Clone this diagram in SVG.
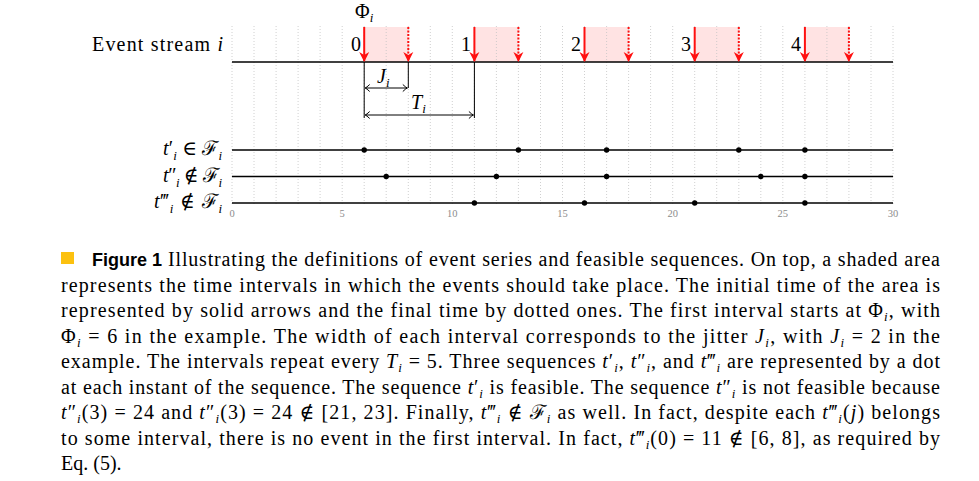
<svg xmlns="http://www.w3.org/2000/svg" width="979" height="481" viewBox="0 0 979 481">
<style>
.serif{font-family:"Liberation Serif","DejaVu Serif",serif;fill:#000}
.lbl{font-size:20px}
.it{font-style:italic}
.tick{font-family:"Liberation Serif","DejaVu Serif",serif;font-size:10.5px;fill:#8c8c8c;text-anchor:middle}
.grid{stroke:#c4c4c4;stroke-width:0.8;stroke-dasharray:1 2}
.shade{fill:#ffe3e3}
.axis{stroke:#000;stroke-width:1.4;fill:none}
.red{stroke:#ff1010;stroke-width:2;fill:none}
.reddot{stroke:#ff1010;stroke-width:2;fill:none;stroke-dasharray:2 1.5}
.dim{stroke:#000;stroke-width:1;fill:none}
.dot{fill:#000}
.cap{font-family:"Liberation Serif","DejaVu Serif",serif;font-size:20px;fill:#000}
</style>
<defs>
<marker id="ah" markerUnits="userSpaceOnUse" markerWidth="14" markerHeight="14" viewBox="-11 -7 14 14" refX="0" refY="0" orient="auto">
<path d="M1,0 L-9,-5 L-6,0 L-9,5 Z" fill="#ff1010"/>
</marker>
<marker id="dh" markerUnits="userSpaceOnUse" markerWidth="10" markerHeight="10" viewBox="-6 -5 8 10" refX="0" refY="0" orient="auto-start-reverse">
<path d="M-4.5,-3.5 Q-1.5,-0.6 0,0 Q-1.5,0.6 -4.5,3.5" stroke="#000" stroke-width="1" fill="none"/>
</marker>
</defs>

<g id="shading">
<rect class="shade" x="364.2" y="27" width="44.1" height="35"/>
<rect class="shade" x="474.4" y="27" width="44.1" height="35"/>
<rect class="shade" x="584.5" y="27" width="44.1" height="35"/>
<rect class="shade" x="694.7" y="27" width="44.1" height="35"/>
<rect class="shade" x="804.9" y="27" width="44.1" height="35"/>
</g>

<g id="grid">
<path class="grid" d="M232,26V206M254,26V206M276.1,26V206M298.1,26V206M320.1,26V206M342.2,26V206M364.2,26V206M386.2,26V206M408.3,26V206M430.3,26V206M452.3,26V206M474.4,26V206M496.4,26V206M518.4,26V206M540.5,26V206M562.5,26V206M584.5,26V206M606.6,26V206M628.6,26V206M650.6,26V206M672.7,26V206M694.7,26V206M716.7,26V206M738.8,26V206M760.8,26V206M782.8,26V206M804.9,26V206M826.9,26V206M848.9,26V206M871,26V206M893,26V206"/>
</g>

<g id="event-stream">
<text class="serif lbl" x="223" y="51" text-anchor="end" textLength="131" lengthAdjust="spacing">Event stream <tspan class="it">i</tspan></text>
<line class="axis" x1="232" y1="62" x2="893" y2="62"/>
<text class="serif lbl" x="355" y="18">Φ<tspan font-size="13" class="it" dy="4">i</tspan></text>
<text class="serif lbl" x="361" y="51" text-anchor="end">0</text>
<text class="serif lbl" x="471" y="51" text-anchor="end">1</text>
<text class="serif lbl" x="581" y="51" text-anchor="end">2</text>
<text class="serif lbl" x="691" y="51" text-anchor="end">3</text>
<text class="serif lbl" x="801" y="51" text-anchor="end">4</text>
</g>

<g id="seq-t1">
<text class="serif lbl" x="222" y="155" text-anchor="end" textLength="59" lengthAdjust="spacing"><tspan class="it">t</tspan>′<tspan font-size="13" class="it" dy="5">i</tspan><tspan dy="-5"> ∈ ℱ</tspan><tspan font-size="13" class="it" dy="5">i</tspan></text>
<line class="axis" x1="232" y1="150" x2="893" y2="150"/>
<circle class="dot" cx="364.2" cy="150" r="2.7"/>
<circle class="dot" cx="518.4" cy="150" r="2.7"/>
<circle class="dot" cx="606.6" cy="150" r="2.7"/>
<circle class="dot" cx="738.8" cy="150" r="2.7"/>
<circle class="dot" cx="804.9" cy="150" r="2.7"/>
</g>

<g id="seq-t2">
<text class="serif lbl" x="222" y="182" text-anchor="end" textLength="59" lengthAdjust="spacing"><tspan class="it">t</tspan>″<tspan font-size="13" class="it" dy="5">i</tspan><tspan dy="-5"> ∉ ℱ</tspan><tspan font-size="13" class="it" dy="5">i</tspan></text>
<line class="axis" x1="232" y1="176.5" x2="893" y2="176.5"/>
<circle class="dot" cx="386.2" cy="176.5" r="2.7"/>
<circle class="dot" cx="496.4" cy="176.5" r="2.7"/>
<circle class="dot" cx="606.6" cy="176.5" r="2.7"/>
<circle class="dot" cx="760.8" cy="176.5" r="2.7"/>
<circle class="dot" cx="804.9" cy="176.5" r="2.7"/>
</g>

<g id="seq-t3">
<text class="serif lbl" x="222" y="208" text-anchor="end" textLength="68" lengthAdjust="spacing"><tspan class="it">t</tspan>‴<tspan font-size="13" class="it" dy="5">i</tspan><tspan dy="-5"> ∉ ℱ</tspan><tspan font-size="13" class="it" dy="5">i</tspan></text>
<line class="axis" x1="232" y1="203" x2="893" y2="203"/>
<circle class="dot" cx="474.4" cy="203" r="2.7"/>
<circle class="dot" cx="584.5" cy="203" r="2.7"/>
<circle class="dot" cx="694.7" cy="203" r="2.7"/>
<circle class="dot" cx="804.9" cy="203" r="2.7"/>
</g>

<g id="ticks">
<text class="tick" x="232" y="217">0</text>
<text class="tick" x="342.2" y="217">5</text>
<text class="tick" x="452.3" y="217">10</text>
<text class="tick" x="562.5" y="217">15</text>
<text class="tick" x="672.7" y="217">20</text>
<text class="tick" x="782.8" y="217">25</text>
<text class="tick" x="893" y="217">30</text>
</g>

<g id="connectors">
<line class="red" x1="364.2" y1="27" x2="364.2" y2="61" marker-end="url(#ah)"/>
<line class="red" x1="474.4" y1="27" x2="474.4" y2="61" marker-end="url(#ah)"/>
<line class="red" x1="584.5" y1="27" x2="584.5" y2="61" marker-end="url(#ah)"/>
<line class="red" x1="694.7" y1="27" x2="694.7" y2="61" marker-end="url(#ah)"/>
<line class="red" x1="804.9" y1="27" x2="804.9" y2="61" marker-end="url(#ah)"/>
<line class="reddot" x1="408.3" y1="27" x2="408.3" y2="61" marker-end="url(#ah)"/>
<line class="reddot" x1="518.4" y1="27" x2="518.4" y2="61" marker-end="url(#ah)"/>
<line class="reddot" x1="628.6" y1="27" x2="628.6" y2="61" marker-end="url(#ah)"/>
<line class="reddot" x1="738.8" y1="27" x2="738.8" y2="61" marker-end="url(#ah)"/>
<line class="reddot" x1="848.9" y1="27" x2="848.9" y2="61" marker-end="url(#ah)"/>
<line class="dim" x1="364.2" y1="62" x2="364.2" y2="118"/>
<line class="dim" x1="408.3" y1="62" x2="408.3" y2="88"/>
<line class="dim" x1="474.4" y1="62" x2="474.4" y2="118"/>
<line class="dim" x1="365.2" y1="88" x2="407.3" y2="88" marker-start="url(#dh)" marker-end="url(#dh)"/>
<line class="dim" x1="365.2" y1="115" x2="473.4" y2="115" marker-start="url(#dh)" marker-end="url(#dh)"/>
</g>

<g id="dim-labels">
<text class="serif lbl" x="377" y="83"><tspan class="it">J</tspan><tspan font-size="13" class="it" dy="4">i</tspan></text>
<text class="serif lbl" x="411" y="109"><tspan class="it">T</tspan><tspan font-size="13" class="it" dy="4">i</tspan></text>
</g>

<g id="caption">
<rect x="61" y="252" width="13" height="12" fill="#fcc10f"/>
<text x="92" y="266" font-family="Liberation Sans, Arial, sans-serif" font-weight="bold" font-size="18" fill="#000">Figure 1</text>
<text class="cap" x="168" y="266" textLength="772" lengthAdjust="spacing">Illustrating the definitions of event series and feasible sequences. On top, a shaded area</text>
<text class="cap" x="61" y="291.5" textLength="879" lengthAdjust="spacing">represents the time intervals in which the events should take place. The initial time of the area is</text>
<text class="cap" x="61" y="317" textLength="879" lengthAdjust="spacing">represented by solid arrows and the final time by dotted ones. The first interval starts at Φ<tspan class="it" font-size="13" dy="4">i</tspan><tspan dy="-4">, with</tspan></text>
<text class="cap" x="61" y="342.5" textLength="879" lengthAdjust="spacing">Φ<tspan class="it" font-size="13" dy="4">i</tspan><tspan dy="-4"> = 6 in the example. The width of each interval corresponds to the jitter </tspan><tspan class="it">J</tspan><tspan class="it" font-size="13" dy="4">i</tspan><tspan dy="-4">, with </tspan><tspan class="it">J</tspan><tspan class="it" font-size="13" dy="4">i</tspan><tspan dy="-4"> = 2 in the</tspan></text>
<text class="cap" x="61" y="368" textLength="879" lengthAdjust="spacing">example. The intervals repeat every <tspan class="it">T</tspan><tspan class="it" font-size="13" dy="4">i</tspan><tspan dy="-4"> = 5. Three sequences </tspan><tspan class="it">t</tspan>′<tspan class="it" font-size="13" dy="4">i</tspan><tspan dy="-4">, </tspan><tspan class="it">t</tspan>″<tspan class="it" font-size="13" dy="4">i</tspan><tspan dy="-4">, and </tspan><tspan class="it">t</tspan>‴<tspan class="it" font-size="13" dy="4">i</tspan><tspan dy="-4"> are represented by a dot</tspan></text>
<text class="cap" x="61" y="393.5" textLength="879" lengthAdjust="spacing">at each instant of the sequence. The sequence <tspan class="it">t</tspan>′<tspan class="it" font-size="13" dy="4">i</tspan><tspan dy="-4"> is feasible. The sequence </tspan><tspan class="it">t</tspan>″<tspan class="it" font-size="13" dy="4">i</tspan><tspan dy="-4"> is not feasible because</tspan></text>
<text class="cap" x="61" y="419" textLength="879" lengthAdjust="spacing"><tspan class="it">t</tspan>″<tspan class="it" font-size="13" dy="4">i</tspan><tspan dy="-4">(3) = 24 and </tspan><tspan class="it">t</tspan>″<tspan class="it" font-size="13" dy="4">i</tspan><tspan dy="-4">(3) = 24 ∉ [21, 23]. Finally, </tspan><tspan class="it">t</tspan>‴<tspan class="it" font-size="13" dy="4">i</tspan><tspan dy="-4"> ∉ ℱ</tspan><tspan class="it" font-size="13" dy="4">i</tspan><tspan dy="-4"> as well. In fact, despite each </tspan><tspan class="it">t</tspan>‴<tspan class="it" font-size="13" dy="4">i</tspan><tspan dy="-4">(</tspan><tspan class="it">j</tspan>) belongs</text>
<text class="cap" x="61" y="444.5" textLength="879" lengthAdjust="spacing">to some interval, there is no event in the first interval. In fact, <tspan class="it">t</tspan>‴<tspan class="it" font-size="13" dy="4">i</tspan><tspan dy="-4">(0) = 11 ∉ [6, 8], as required by</tspan></text>
<text class="cap" x="61" y="470">Eq. (5).</text>
</g>
</svg>
